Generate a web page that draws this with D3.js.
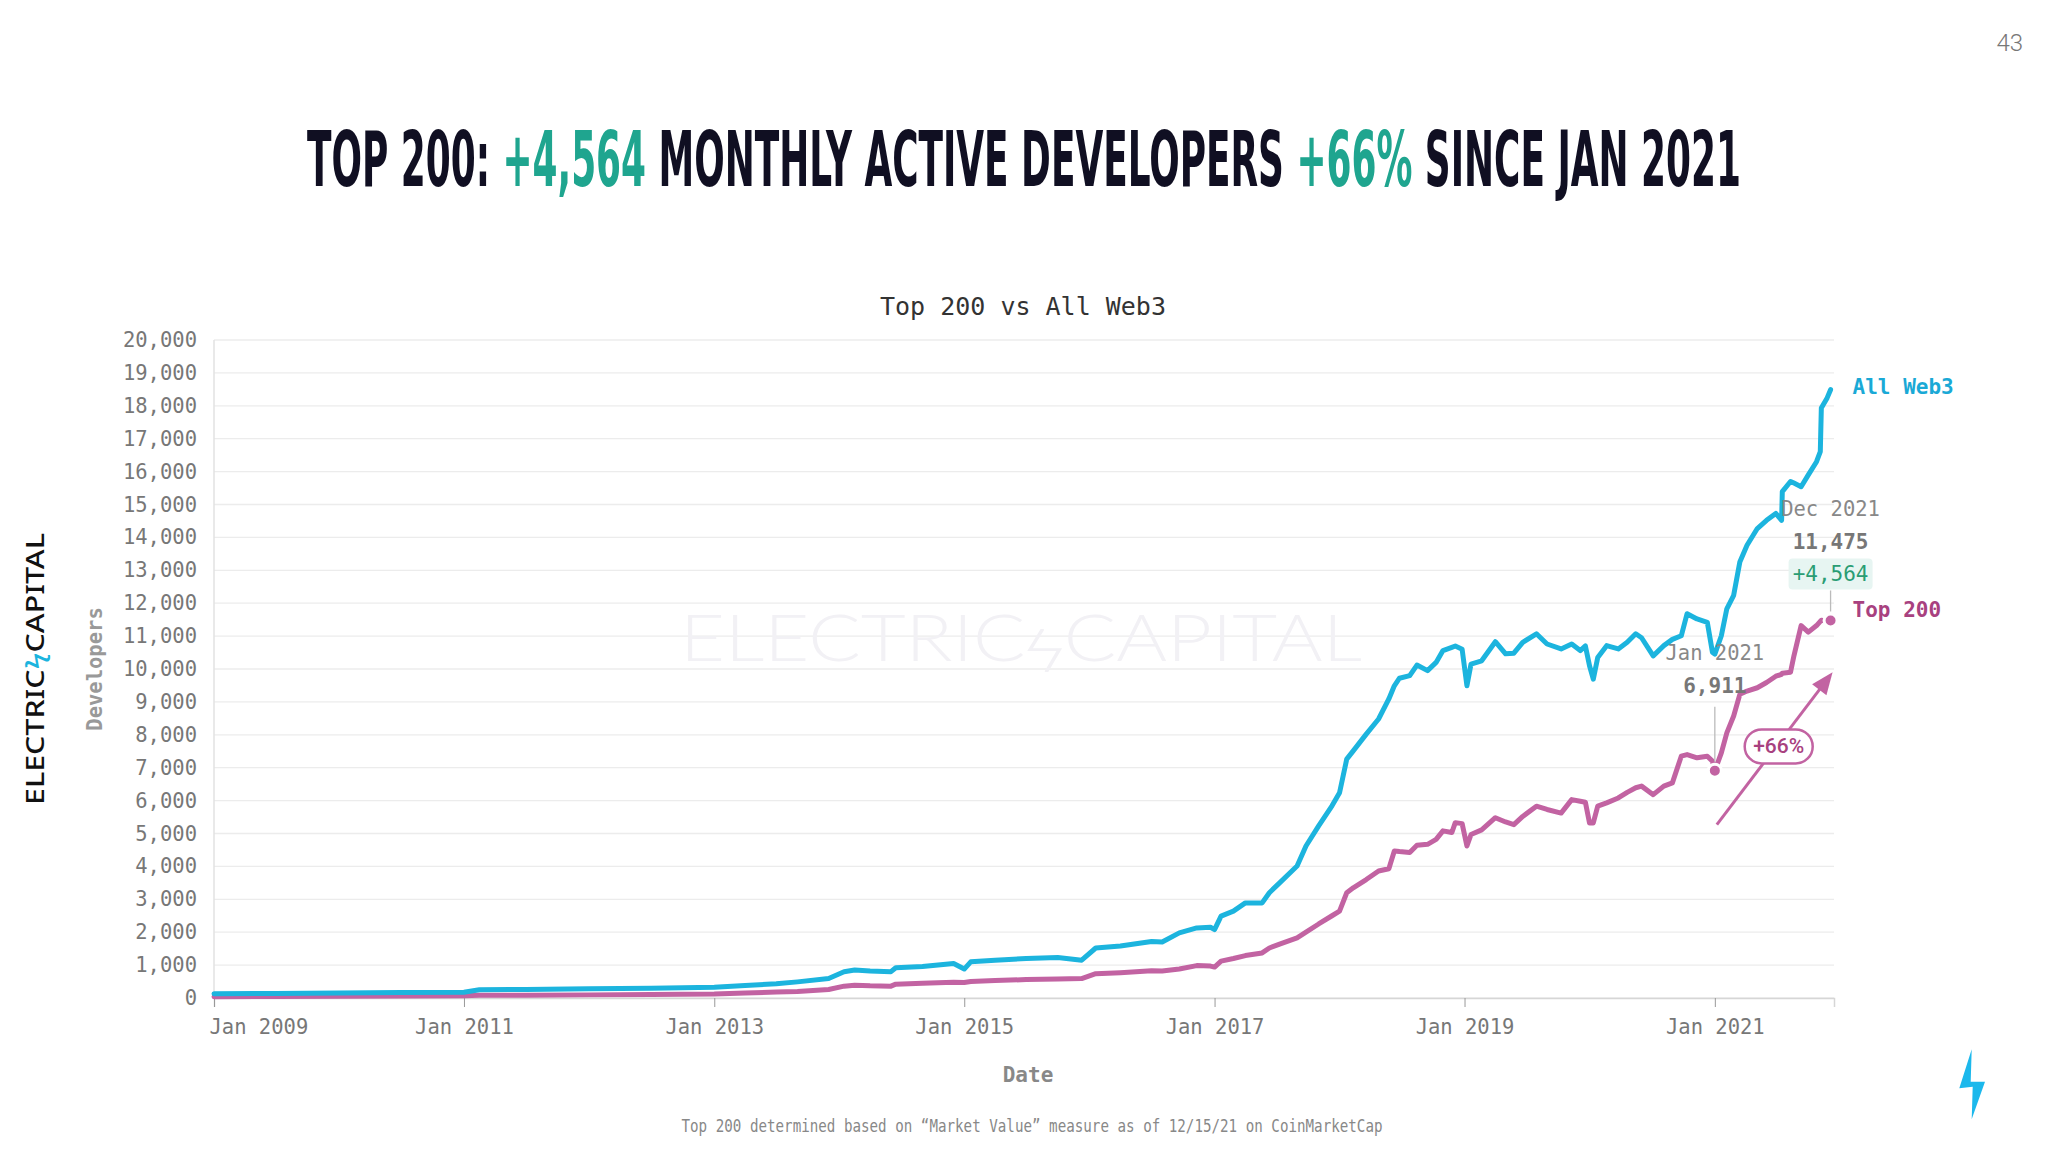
<!DOCTYPE html>
<html>
<head>
<meta charset="utf-8">
<script src="https://cdn.jsdelivr.net/npm/d3@7"></script>
<style>
  body { margin: 0; background: #fff; }
  svg { display: block; }
  text { white-space: pre; }
</style>
</head>
<body>
<div id="chart"></div>
<script>
// 1: DATA
const dates = [
  "2009-01-01", "2009-07-01", "2010-01-01", "2010-07-01", "2011-01-01", "2011-02-15",
  "2011-07-01", "2012-01-01", "2012-07-01", "2013-01-01", "2013-04-01", "2013-07-01",
  "2013-09-01", "2013-12-01", "2014-01-15", "2014-02-15", "2014-04-01", "2014-06-01",
  "2014-06-15", "2014-09-01", "2014-12-01", "2015-01-01", "2015-01-20", "2015-04-01",
  "2015-07-01", "2015-10-01", "2015-12-10", "2016-01-20", "2016-04-01", "2016-07-01",
  "2016-08-01", "2016-09-20", "2016-11-10", "2016-12-20", "2017-01-01", "2017-01-20",
  "2017-02-25", "2017-04-01", "2017-05-20", "2017-06-10", "2017-07-10", "2017-08-30",
  "2017-09-25", "2017-11-01", "2017-12-10", "2018-01-01", "2018-01-22", "2018-02-10",
  "2018-03-20", "2018-04-25", "2018-05-25", "2018-06-10", "2018-06-25", "2018-07-25",
  "2018-08-15", "2018-09-15", "2018-10-10", "2018-10-30", "2018-11-25", "2018-12-05",
  "2018-12-25", "2019-01-08", "2019-01-20", "2019-02-20", "2019-04-01", "2019-05-01",
  "2019-05-25", "2019-06-20", "2019-07-30", "2019-08-30", "2019-10-10", "2019-11-10",
  "2019-12-05", "2019-12-20", "2020-01-01", "2020-01-12", "2020-01-25", "2020-02-20",
  "2020-03-25", "2020-04-20", "2020-05-15", "2020-06-01", "2020-07-05", "2020-08-05",
  "2020-08-30", "2020-09-25", "2020-10-12", "2020-11-10", "2020-12-10", "2020-12-25",
  "2021-01-01", "2021-01-20", "2021-02-05", "2021-02-25", "2021-03-15", "2021-04-05",
  "2021-05-05", "2021-06-01", "2021-06-28", "2021-07-15", "2021-07-17", "2021-08-10",
  "2021-08-20", "2021-09-10", "2021-10-01", "2021-10-25", "2021-11-05", "2021-11-08",
  "2021-11-25", "2021-12-05"
];

const allWeb3 = [
  130, 140, 150, 165, 175, 250,
  260, 280, 300, 330, 380, 430,
  490, 590, 800, 850, 820, 800,
  920, 960, 1050, 880, 1100, 1150,
  1200, 1230, 1150, 1520, 1580, 1720,
  1700, 1980, 2130, 2150, 2080, 2490,
  2640, 2890, 2890, 3200, 3500, 4010,
  4620, 5230, 5840, 6240, 7260, 7510,
  8020, 8480, 9090, 9490, 9720, 9800,
  10120, 9950, 10200, 10560, 10660, 10700,
  10600, 9490, 10150, 10250, 10830, 10460,
  10480, 10810, 11070, 10760, 10610, 10760,
  10560, 10700, 10100, 9690, 10350, 10710,
  10610, 10810, 11070, 10950, 10400, 10710,
  10900, 11010, 11680, 11520, 11420, 10510,
  10450, 11010, 11830, 12240, 13250, 13760,
  14270, 14520, 14730, 14520, 15390, 15700,
  15650, 15540, 15900, 16300, 16610, 17930,
  18240, 18490
];

const top200 = [
  40, 45, 50, 60, 70, 80,
  85, 95, 105, 120, 150, 180,
  200, 260, 360, 390, 370, 360,
  420, 450, 480, 470, 500, 530,
  560, 580, 590, 740, 770, 825,
  820, 880, 985, 970, 940, 1120,
  1200, 1290, 1370, 1520, 1640, 1830,
  2000, 2250, 2500, 2640, 3200, 3350,
  3600, 3860, 3930, 4470, 4450, 4420,
  4640, 4670, 4820, 5080, 5030, 5330,
  5300, 4620, 4970, 5110, 5480, 5350,
  5270, 5520, 5830, 5730, 5620, 6030,
  5980, 5950, 5320, 5320, 5830, 5930,
  6080, 6250, 6390, 6440, 6180, 6440,
  6540, 7350, 7400, 7300, 7350, 7200,
  6911, 7450, 8060, 8570, 9230, 9330,
  9430, 9590, 9780, 9840, 9870, 9900,
  10400, 11320, 11120, 11320, 11450, 11480,
  11450, 11475
];

const xTickYears = [2009, 2011, 2013, 2015, 2017, 2019, 2021];

const startDate = "2021-01-01";
const startValue = 6911;
const endDate = "2021-12-05";
const endValue = 11475;
const gainLabel = "+4,564";
const pctLabel = "+66%";
const yDomain = [0, 20000];

// 2: GLOBALS
const W = 2048, H = 1152;
const margin = { top: 340, right: 214, bottom: 154, left: 214 };
const width = W - margin.left - margin.right;
const height = H - margin.top - margin.bottom;

const cyan = "#1cb4de";
const magenta = "#c263a2";
const magentaDark = "#a8417f";
const teal = "#1fa58f";
const navy = "#100f22";
const mono = "'DejaVu Sans Mono', 'Liberation Mono', monospace";

const parse = d3.timeParse("%Y-%m-%d");
const web3Data = dates.map((d, i) => ({ date: parse(d), value: allWeb3[i] }));
const topData = dates.map((d, i) => ({ date: parse(d), value: top200[i] }));

const root = d3.select("#chart").append("svg")
    .attr("width", W)
    .attr("height", H);

root.append("rect").attr("width", W).attr("height", H).attr("fill", "#fff");

// page number
root.append("text")
    .attr("x", 2023).attr("y", 51)
    .attr("text-anchor", "end")
    .style("font-family", "Roboto, 'Open Sans', sans-serif")
    .style("font-weight", 300)
    .style("font-size", "24px")
    .attr("fill", "#777")
    .text("43");

// 3: HEADLINE
const titleParts = [
    { t: "TOP 200: ", c: navy },
    { t: gainLabel, c: teal },
    { t: " MONTHLY ACTIVE DEVELOPERS ", c: navy },
    { t: pctLabel, c: teal },
    { t: " SINCE JAN 2021", c: navy }
];
const title = root.append("text")
    .style("font-family", "'Liberation Sans Narrow', 'DejaVu Sans Condensed', 'Liberation Sans', sans-serif")
    .style("font-weight", "bold")
    .style("font-size", "76px");
title.selectAll("tspan")
    .data(titleParts)
    .enter().append("tspan")
    .attr("fill", d => d.c)
    .text(d => d.t);
const tb = title.node().getBBox();
title.attr("transform", `translate(307,186) scale(${1434 / tb.width},1)`);

// chart title
root.append("text")
    .attr("x", 1023).attr("y", 315)
    .attr("text-anchor", "middle")
    .style("font-family", mono)
    .style("font-size", "25px")
    .attr("fill", "#333")
    .text("Top 200 vs All Web3");

// left brand logo
const logo = root.append("text")
    .attr("transform", "translate(44,805) rotate(-90)")
    .attr("textLength", 272)
    .attr("lengthAdjust", "spacingAndGlyphs")
    .style("font-family", "'Noto Sans', Lato, sans-serif")
    .style("font-weight", 500)
    .style("font-size", "26px")
    .attr("fill", "#111");
logo.append("tspan").text("ELECTRIC");
logo.append("tspan").attr("fill", cyan).text("ϟ");
logo.append("tspan").text("CAPITAL");

// bottom-right bolt
root.append("path")
    .attr("d", "M1971.7,1049.3 L1959.3,1088.3 L1972.7,1086.7 L1971.7,1119.3 L1985,1081.7 L1970.7,1081.7 Z")
    .attr("fill", "#1cb8ec");

const svg = root.append("g")
    .attr("transform", `translate(${margin.left},${margin.top})`);

// 4: SCALES
const xScale = d3.scaleTime()
    .domain([new Date(2009, 0, 1), new Date(2021, 11, 15)])
    .range([0, width]);

const yScale = d3.scaleLinear()
    .domain(yDomain)
    .range([height, 0]);

// grid lines
svg.append("g")
    .selectAll("line")
    .data(yScale.ticks(20))
    .enter().append("line")
    .attr("x1", 0).attr("x2", width)
    .attr("y1", d => yScale(d)).attr("y2", d => yScale(d))
    .attr("stroke", "#ececec")
    .attr("stroke-width", 1.3);

// left axis line
svg.append("line")
    .attr("x1", 0).attr("x2", 0)
    .attr("y1", 0).attr("y2", height)
    .attr("stroke", "#e2e2e2")
    .attr("stroke-width", 1.5);

// watermark
const wm = svg.append("text")
    .attr("x", 1021 - margin.left).attr("y", 661 - margin.top)
    .attr("text-anchor", "middle")
    .attr("textLength", 682)
    .attr("lengthAdjust", "spacingAndGlyphs")
    .style("font-family", "Lato, 'Noto Sans', sans-serif")
    .style("font-weight", 300)
    .style("font-size", "66px")
    .attr("fill", "#f2f1f5");
wm.append("tspan").text("ELECTRIC");
wm.append("tspan").text("ϟ");
wm.append("tspan").text("CAPITAL");

// 5: AXES
const yAxis = svg.append("g")
    .call(d3.axisLeft(yScale).ticks(20).tickSize(0).tickPadding(17).tickFormat(d3.format(",")));
yAxis.select(".domain").remove();
yAxis.selectAll("text")
    .style("font-family", mono)
    .style("font-size", "20.5px")
    .attr("fill", "#777");

const xAxis = svg.append("g")
    .attr("transform", `translate(0,${height})`)
    .call(d3.axisBottom(xScale)
        .tickValues(xTickYears.map(y => new Date(y, 0, 1)))
        .tickFormat(d3.timeFormat("%b %Y"))
        .tickSize(9)
        .tickSizeOuter(9)
        .tickPadding(12));
xAxis.select(".domain").attr("stroke", "#d6d6d6").attr("stroke-width", 1.5);
xAxis.selectAll(".tick line").attr("stroke", "#999");
xAxis.selectAll("text")
    .style("font-family", mono)
    .style("font-size", "20.5px")
    .attr("fill", "#777");
// first label is pushed inside the plot, like the reference
xAxis.selectAll(".tick").filter((d, i) => i === 0).select("text")
    .attr("text-anchor", "start")
    .attr("x", -5);

// axis titles
svg.append("text")
    .attr("transform", "rotate(-90)")
    .attr("x", -(669 - margin.top))
    .attr("y", 95 - margin.left + 7)
    .attr("text-anchor", "middle")
    .style("font-family", mono)
    .style("font-weight", "bold")
    .style("font-size", "20.5px")
    .attr("fill", "#999")
    .text("Developers");

svg.append("text")
    .attr("x", 1028 - margin.left)
    .attr("y", 1082 - margin.top)
    .attr("text-anchor", "middle")
    .style("font-family", mono)
    .style("font-weight", "bold")
    .style("font-size", "21px")
    .attr("fill", "#888")
    .text("Date");

// footnote
root.append("text")
    .attr("x", 1032).attr("y", 1132)
    .attr("text-anchor", "middle")
    .attr("textLength", 701)
    .attr("lengthAdjust", "spacingAndGlyphs")
    .style("font-family", "'DejaVu Sans Mono', monospace")
    .style("font-size", "17px")
    .attr("fill", "#888")
    .text("Top 200 determined based on “Market Value” measure as of 12/15/21 on CoinMarketCap");

// 6: LINES
const line = d3.line()
    .x(d => xScale(d.date))
    .y(d => yScale(d.value));

svg.append("path")
    .datum(topData)
    .attr("fill", "none")
    .attr("stroke", magenta)
    .attr("stroke-width", 5)
    .attr("stroke-linejoin", "round")
    .attr("stroke-linecap", "round")
    .attr("d", line);

svg.append("path")
    .datum(web3Data)
    .attr("fill", "none")
    .attr("stroke", cyan)
    .attr("stroke-width", 5)
    .attr("stroke-linejoin", "round")
    .attr("stroke-linecap", "round")
    .attr("d", line);

// series labels
const lastWeb3 = web3Data[web3Data.length - 1];
const lastTop = topData[topData.length - 1];

svg.append("text")
    .attr("x", xScale(lastWeb3.date) + 22)
    .attr("y", yScale(lastWeb3.value) + 4)
    .style("font-family", mono)
    .style("font-weight", "bold")
    .style("font-size", "21px")
    .attr("fill", "#1aa9d6")
    .text("All Web3");

svg.append("text")
    .attr("x", xScale(lastTop.date) + 22)
    .attr("y", yScale(lastTop.value) - 3)
    .style("font-family", mono)
    .style("font-weight", "bold")
    .style("font-size", "21px")
    .attr("fill", magentaDark)
    .text("Top 200");

// 7: ANNOTATIONS
const sx = xScale(parse(startDate)), sy = yScale(startValue);
const ex = xScale(parse(endDate)), ey = yScale(endValue);
const fmt = d3.format(",");

// Jan 2021
svg.append("line")
    .attr("x1", sx).attr("x2", sx)
    .attr("y1", sy - 64).attr("y2", sy - 9)
    .attr("stroke", "#bbb").attr("stroke-width", 1.3);
svg.append("text")
    .attr("x", sx).attr("y", sy - 111)
    .attr("text-anchor", "middle")
    .style("font-family", mono).style("font-size", "20.5px")
    .attr("fill", "#888")
    .text(d3.timeFormat("%b %Y")(parse(startDate)));
svg.append("text")
    .attr("x", sx).attr("y", sy - 78)
    .attr("text-anchor", "middle")
    .style("font-family", mono).style("font-weight", "bold").style("font-size", "21px")
    .attr("fill", "#777")
    .text(fmt(startValue));

// Dec 2021
svg.append("line")
    .attr("x1", ex).attr("x2", ex)
    .attr("y1", ey - 30).attr("y2", ey - 9)
    .attr("stroke", "#bbb").attr("stroke-width", 1.3);
svg.append("rect")
    .attr("x", ex - 42).attr("y", ey - 62)
    .attr("width", 84).attr("height", 31)
    .attr("rx", 4)
    .attr("fill", "#e7f5f2");
svg.append("text")
    .attr("x", ex).attr("y", ey - 39)
    .attr("text-anchor", "middle")
    .style("font-family", mono).style("font-size", "21px")
    .attr("fill", "#2a9d74")
    .text(gainLabel);
svg.append("text")
    .attr("x", ex).attr("y", ey - 71)
    .attr("text-anchor", "middle")
    .style("font-family", mono).style("font-weight", "bold").style("font-size", "21px")
    .attr("fill", "#777")
    .text(fmt(endValue));
svg.append("text")
    .attr("x", ex).attr("y", ey - 104)
    .attr("text-anchor", "middle")
    .style("font-family", mono).style("font-size", "20.5px")
    .attr("fill", "#888")
    .text(d3.timeFormat("%b %Y")(parse(endDate)));

// dots
svg.selectAll(".dot")
    .data([{ x: sx, y: sy }, { x: ex, y: ey }])
    .enter().append("circle")
    .attr("cx", d => d.x).attr("cy", d => d.y)
    .attr("r", 6.5)
    .attr("fill", magenta)
    .attr("stroke", "#fff")
    .attr("stroke-width", 3);

// growth arrow
const ax1 = sx + 2, ay1 = yScale(5270);
const ax2 = ex + 2, ay2 = yScale(9900);
const ang = Math.atan2(ay2 - ay1, ax2 - ax1);
const headLen = 22, headW = 9;
svg.append("line")
    .attr("x1", ax1).attr("y1", ay1)
    .attr("x2", ax2 - Math.cos(ang) * headLen * 0.8)
    .attr("y2", ay2 - Math.sin(ang) * headLen * 0.8)
    .attr("stroke", magenta).attr("stroke-width", 3);
const bx = ax2 - Math.cos(ang) * headLen, by = ay2 - Math.sin(ang) * headLen;
svg.append("path")
    .attr("d", `M${ax2},${ay2} L${bx + Math.sin(ang) * headW},${by - Math.cos(ang) * headW} L${bx - Math.sin(ang) * headW},${by + Math.cos(ang) * headW} Z`)
    .attr("fill", magenta);

const mx = (ax1 + ax2) / 2 + 4, my = (ay1 + ay2) / 2 - 2;
svg.append("rect")
    .attr("x", mx - 34).attr("y", my - 17)
    .attr("width", 68).attr("height", 34)
    .attr("rx", 17)
    .attr("fill", "#fff")
    .attr("stroke", magenta)
    .attr("stroke-width", 2.5);
svg.append("text")
    .attr("x", mx).attr("y", my + 7)
    .attr("text-anchor", "middle")
    .style("font-family", "Roboto, 'Noto Sans', sans-serif")
    .style("font-weight", 500)
    .style("font-size", "21px")
    .attr("fill", magentaDark)
    .text(pctLabel);
</script>
</body>
</html>
